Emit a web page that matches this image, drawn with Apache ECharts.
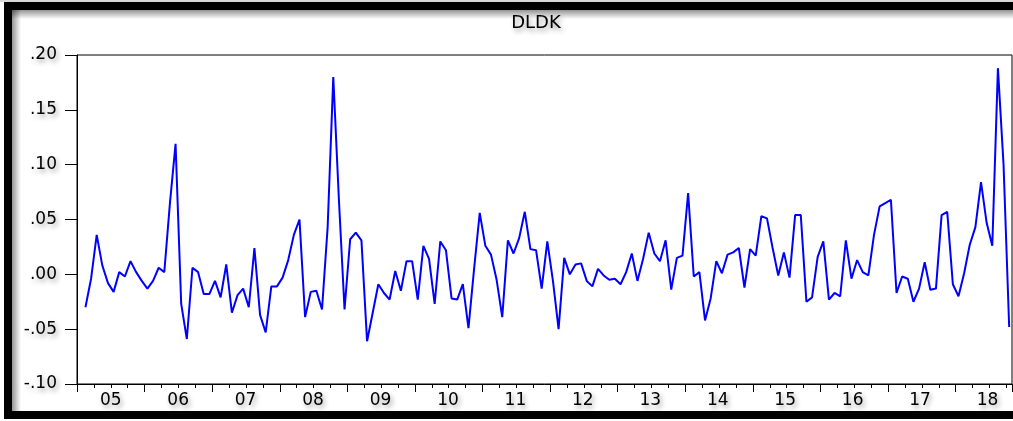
<!DOCTYPE html>
<html>
<head>
<meta charset="utf-8">
<title>DLDK</title>
<script src="https://cdn.jsdelivr.net/npm/echarts@6/dist/echarts.min.js"></script>
<style>
  html, body { margin: 0; padding: 0; background: #ffffff; }
  #chart { width: 1013px; height: 421px; }
</style>
</head>
<body>
<div id="chart"></div>
<script>
// Monthly log-difference series, 2005M02 .. 2018M10
const seriesName = 'DLDK';
const firstYear = 2005;
const firstMonth = 2;
const dldk = [
  -0.030, -0.004, 0.036, 0.008, -0.008, -0.016, 0.002, -0.002, 0.012, 0.002, -0.006,
  -0.013, -0.006, 0.006, 0.002, 0.065, 0.119, -0.027, -0.059, 0.006, 0.002, -0.018,
  -0.018, -0.006, -0.021, 0.009, -0.035, -0.019, -0.013,
  -0.030, 0.024, -0.037, -0.053, -0.011, -0.011, -0.003, 0.013, 0.036, 0.050, -0.039,
  -0.016, -0.015, -0.032, 0.043, 0.180, 0.068, -0.032, 0.032, 0.038, 0.031, -0.061,
  -0.035, -0.009, -0.017, -0.023, 0.003, -0.015,
  0.012, 0.012, -0.023, 0.026, 0.014, -0.027, 0.030, 0.022, -0.022, -0.023, -0.009,
  -0.049, 0.005, 0.056, 0.026, 0.018, -0.005, -0.039, 0.031, 0.019, 0.033, 0.057,
  0.023, 0.022, -0.013, 0.030, -0.006,
  -0.050, 0.015, 0.000, 0.009, 0.010, -0.006, -0.011, 0.005, -0.001, -0.005, -0.004,
  -0.009, 0.002, 0.019, -0.006, 0.014, 0.038, 0.019, 0.012, 0.031, -0.014, 0.015,
  0.017, 0.074, -0.002, 0.002, -0.042, -0.022,
  0.012, 0.001, 0.018, 0.020, 0.024, -0.012, 0.023, 0.017, 0.053, 0.051, 0.024,
  -0.001, 0.020, -0.003, 0.054, 0.054, -0.025, -0.021, 0.016, 0.030, -0.023, -0.017,
  -0.020, 0.031, -0.004, 0.013, 0.002, -0.001,
  0.036, 0.062, 0.065, 0.068, -0.017, -0.002, -0.004, -0.025, -0.013, 0.011, -0.014,
  -0.013, 0.054, 0.057, -0.009, -0.020, 0.001, 0.027, 0.043, 0.084, 0.047, 0.026,
  0.188, 0.100, -0.048
];
const yearLabels = ['05','06','07','08','09','10','11','12','13','14','15','16','17','18'];
const yTicks = [-0.10, -0.05, 0.00, 0.05, 0.10, 0.15, 0.20];

// Month names for every observation
const months = dldk.map((_, k) => {
  const m0 = firstMonth - 1 + k;
  const y = firstYear + Math.floor(m0 / 12);
  const m = (m0 % 12) + 1;
  return y + 'M' + String(m).padStart(2, '0');
});

// Position on the time axis, in months since the start of 2005 (mid-month)
function monthPos(label) {
  const y = parseInt(label.slice(0, 4), 10);
  const m = parseInt(label.slice(5), 10);
  return (y - firstYear) * 12 + (m - 1) + 0.5;
}
const lastLabel = months[months.length - 1];
const axisEnd = monthPos(lastLabel) + 0.5;
const lineData = months.map((lab, k) => [monthPos(lab), dldk[k]]);

const FONT = 'DejaVu Sans';
const shadowText = {
  textShadowColor: 'rgba(0,0,0,0.38)',
  textShadowBlur: 5,
  textShadowOffsetX: 2,
  textShadowOffsetY: 3
};
const gridRect = { left: 77, top: 55, right: 1, bottom: 37 };

function fmtY(v) {
  const n = Math.round(Math.abs(v) * 100);
  return (v < -1e-9 ? '-' : '') + '.' + String(n).padStart(2, '0');
}

const chart = echarts.init(document.getElementById('chart'), null, { renderer: 'canvas' });

const hiddenY = (idx) => ({
  type: 'value', gridIndex: idx, min: yTicks[0], max: yTicks[yTicks.length - 1],
  interval: 0.05, show: false
});

chart.setOption({
  animation: false,
  backgroundColor: '#ffffff',
  title: {
    text: seriesName,
    left: 531,
    top: 9,
    textAlign: 'center',
    textStyle: Object.assign({ fontFamily: FONT, fontSize: 18, fontWeight: 'normal', color: '#000' }, shadowText)
  },
  grid: [
    Object.assign({ show: true, borderColor: '#000', borderWidth: 1, backgroundColor: '#fff' }, gridRect),
    Object.assign({ show: false }, gridRect),
    Object.assign({ show: false }, gridRect)
  ],
  xAxis: [
    {
      // year boundaries: long ticks
      type: 'value', gridIndex: 0, min: 0, max: axisEnd, interval: 12,
      axisLine: { show: true, onZero: false, lineStyle: { color: '#000', width: 1 } },
      axisTick: { show: true, inside: false, length: 8, lineStyle: { color: '#000', width: 1 } },
      axisLabel: { show: false },
      splitLine: { show: false }
    },
    {
      // quarters: short ticks
      type: 'value', gridIndex: 1, min: 0, max: axisEnd, interval: 3,
      axisLine: { show: false, onZero: false },
      axisTick: { show: true, inside: false, length: 4, lineStyle: { color: '#000', width: 1 } },
      axisLabel: { show: false },
      splitLine: { show: false }
    },
    {
      // year labels centred in each year
      type: 'value', gridIndex: 2, min: 0, max: axisEnd, interval: 6,
      axisLine: { show: false, onZero: false },
      axisTick: { show: false },
      splitLine: { show: false },
      axisLabel: Object.assign({
        show: true, margin: 8, fontFamily: FONT, fontSize: 17, color: '#000',
        showMinLabel: true, showMaxLabel: true,
        formatter: (v) => {
          const k = Math.round(v);
          if (k % 12 !== 6) return '';
          const idx = (k - 6) / 12;
          return yearLabels[idx] || '';
        }
      }, shadowText)
    }
  ],
  yAxis: [
    {
      type: 'value', gridIndex: 0, min: yTicks[0], max: yTicks[yTicks.length - 1], interval: 0.05,
      axisLine: { show: true, onZero: false, lineStyle: { color: '#000', width: 1 } },
      axisTick: { show: true, inside: false, length: 12, lineStyle: { color: '#000', width: 1 } },
      splitLine: { show: false },
      axisLabel: Object.assign({
        show: true, margin: 20, fontFamily: FONT, fontSize: 17, color: '#000',
        formatter: fmtY
      }, shadowText)
    },
    hiddenY(1),
    hiddenY(2)
  ],
  series: [
    {
      name: seriesName,
      type: 'line',
      xAxisIndex: 0,
      yAxisIndex: 0,
      data: lineData,
      showSymbol: false,
      symbol: 'none',
      lineStyle: { color: '#0000ff', width: 2 },
      z: 3
    }
  ],
  graphic: [
    // picture frame: black band with a soft inner shadow
    { type: 'rect', z: 100, silent: true, shape: { x: 0, y: 0, width: 1013, height: 2 }, style: { fill: '#d8d8d8' } },
    { type: 'rect', z: 100, silent: true, shape: { x: 4, y: 2, width: 1009, height: 8 }, style: { fill: '#000' } },
    { type: 'rect', z: 100, silent: true, shape: { x: 4, y: 2, width: 8, height: 417 }, style: { fill: '#000' } },
    { type: 'rect', z: 100, silent: true, shape: { x: 4, y: 411, width: 1009, height: 8 }, style: { fill: '#000' } },
    {
      type: 'rect', z: 99, silent: true, shape: { x: 12, y: 10, width: 1001, height: 9 },
      style: { fill: new echarts.graphic.LinearGradient(0, 0, 0, 1, [
        { offset: 0, color: 'rgba(0,0,0,0.42)' }, { offset: 1, color: 'rgba(0,0,0,0)' }]) }
    },
    {
      type: 'rect', z: 99, silent: true, shape: { x: 12, y: 10, width: 9, height: 401 },
      style: { fill: new echarts.graphic.LinearGradient(0, 0, 1, 0, [
        { offset: 0, color: 'rgba(0,0,0,0.42)' }, { offset: 1, color: 'rgba(0,0,0,0)' }]) }
    }
  ]
});
</script>
</body>
</html>
